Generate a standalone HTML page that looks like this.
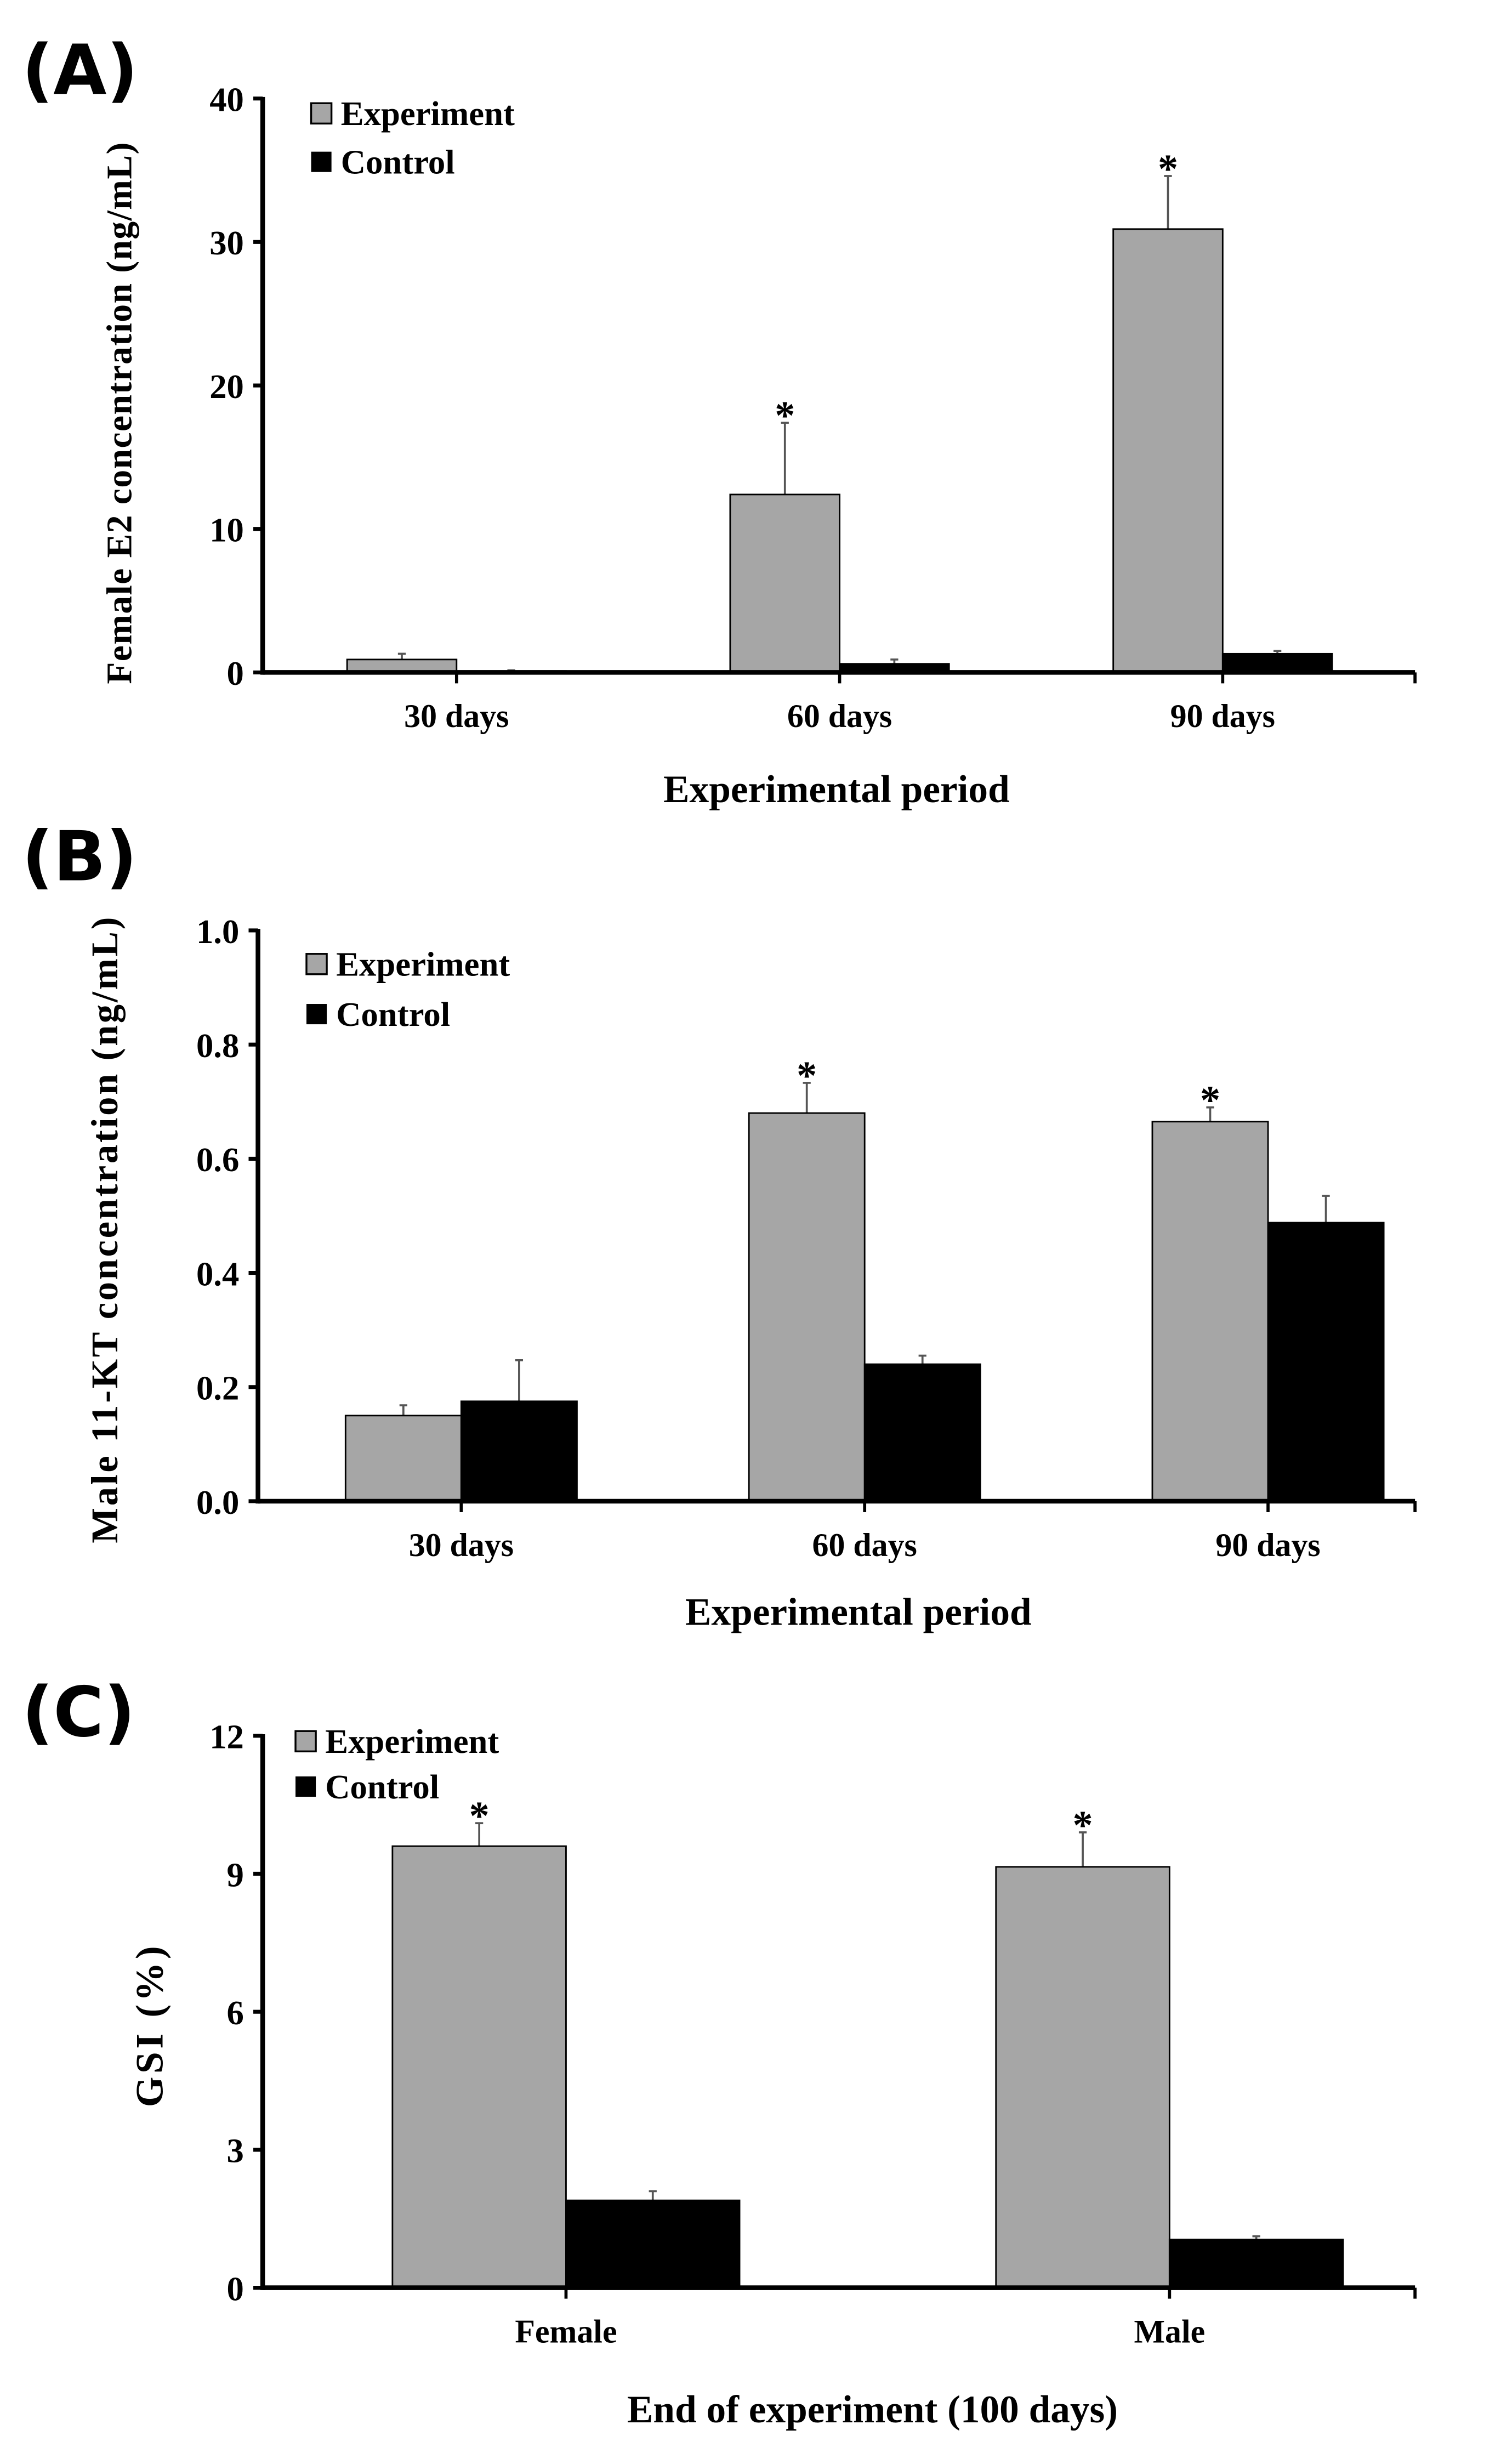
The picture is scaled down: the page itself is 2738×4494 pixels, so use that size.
<!DOCTYPE html>
<html><head><meta charset="utf-8">
<style>
html,body{margin:0;padding:0;background:#fff;}
svg{display:block;}
.t{font-family:"Liberation Serif",serif;font-weight:bold;fill:#000;}
.p{font-family:"DejaVu Sans","Liberation Sans",sans-serif;font-weight:bold;fill:#000;}
</style></head>
<body>
<svg id="fig" width="2738" height="4494" viewBox="0 0 960 1575.7" preserveAspectRatio="none" xmlns="http://www.w3.org/2000/svg"></svg>
<script>
// Panel A data
const catsA = ["30 days","60 days","90 days"];
const expA = [0.9, 12.4, 30.9];
const expErrA = [0.4, 5.0, 3.7];
const ctrlA = [0.1, 0.6, 1.3];
const ctrlErrA = [0.05, 0.3, 0.2];
const sigA = [false, true, true];
const ticksA = [0,10,20,30,40];
const tickLabelsA = ["0","10","20","30","40"];
// Panel B data
const catsB = ["30 days","60 days","90 days"];
const expB = [0.15, 0.68, 0.665];
const expErrB = [0.018, 0.053, 0.025];
const ctrlB = [0.175, 0.24, 0.488];
const ctrlErrB = [0.072, 0.015, 0.047];
const sigB = [false, true, true];
const ticksB = [0,0.2,0.4,0.6,0.8,1.0];
const tickLabelsB = ["0.0","0.2","0.4","0.6","0.8","1.0"];
// Panel C data
const catsC = ["Female","Male"];
const expC = [9.6, 9.15];
const expErrC = [0.5, 0.75];
const ctrlC = [1.9, 1.05];
const ctrlErrC = [0.2, 0.07];
const sigC = [true, true];
const ticksC = [0,3,6,9,12];
const tickLabelsC = ["0","3","6","9","12"];

const NS = "http://www.w3.org/2000/svg";
const svg = document.getElementById('fig');
function mk(tag, attrs, parent, text){
  const e = document.createElementNS(NS, tag);
  for (const k in attrs) e.setAttribute(k, attrs[k]);
  if (text !== undefined) e.textContent = text;
  (parent || svg).appendChild(e);
  return e;
}

function panel(cfg){
  const g = mk('g', {});
  
  
  const yScale = v => cfg.y0 - (v - 0) / cfg.ymax * (cfg.y0 - cfg.y1);
  const n = cfg.cats.length;
  const centers = cfg.cats.map((c,i)=> cfg.firstC + i*cfg.step);
  const pl = mk('text', {x:14, y:cfg.letterY, class:'p', 'font-size':44}, g, cfg.letter);
  
  
  for (let i=0;i<n;i++){
    const cx = centers[i], w = cfg.bw;
    const ye = yScale(cfg.exp[i]), yc = yScale(cfg.ctrl[i]);
    const ee = yScale(cfg.exp[i]+cfg.expErr[i]), ce = yScale(cfg.ctrl[i]+cfg.ctrlErr[i]);
    const eb = mk('line', {x1:cx-w/2, x2:cx-w/2, y1:ye, y2:ee, stroke:'#555', 'stroke-width':1.3}, g);
    
    
    mk('line', {x1:cx-w/2-2.5, x2:cx-w/2+2.5, y1:ee, y2:ee, stroke:'#555', 'stroke-width':1.3}, g);
    const cb = mk('line', {x1:cx+w/2, x2:cx+w/2, y1:yc, y2:ce, stroke:'#555', 'stroke-width':1.3}, g);
    
    
    mk('line', {x1:cx+w/2-2.5, x2:cx+w/2+2.5, y1:ce, y2:ce, stroke:'#555', 'stroke-width':1.3}, g);
    const r1 = mk('rect', {x:cx-w, y:ye, width:w, height:cfg.y0-ye, fill:'#a6a6a6', stroke:'#000', 'stroke-width':1}, g);
    
    
    const r2 = mk('rect', {x:cx, y:yc, width:w, height:cfg.y0-yc, fill:'#000', stroke:'#000', 'stroke-width':1}, g);
    
    
    if (cfg.sig[i]){
      const st = mk('text', {x:cx-w/2, y:ee+4, class:'t', 'font-size':26, 'text-anchor':'middle'}, g, '*');
      
      
    }
    const xl = mk('text', {x:cx, y:cfg.y0+35, class:'t', 'font-size':21, 'text-anchor':'middle'}, g, cfg.cats[i]);
    
    
    mk('line', {x1:cx, x2:cx, y1:cfg.y0, y2:cfg.y0+7, stroke:'#000', 'stroke-width':2}, g);
  }
  mk('line', {x1:cfg.xEnd, x2:cfg.xEnd, y1:cfg.y0, y2:cfg.y0+7, stroke:'#000', 'stroke-width':2}, g);
  const ya = mk('line', {x1:cfg.x0, x2:cfg.x0, y1:cfg.y1-1, y2:cfg.y0+1.5, stroke:'#000', 'stroke-width':3}, g);
  
  
  const xa = mk('line', {x1:cfg.x0, x2:cfg.xEnd, y1:cfg.y0, y2:cfg.y0, stroke:'#000', 'stroke-width':3}, g);
  
  
  cfg.ticks.forEach((t,j)=>{
    const y = yScale(t);
    mk('line', {x1:cfg.x0-6, x2:cfg.x0, y1:y, y2:y, stroke:'#000', 'stroke-width':2.5}, g);
    const tl = mk('text', {x:cfg.x0-12, y:y+8, class:'t', 'font-size':22, 'text-anchor':'end'}, g, cfg.tickLabels[j]);
    
    
  });
  const lg = mk('g', {}, g);
  
  
  const le = mk('rect', {x:cfg.legX, y:cfg.legY, width:13, height:13, fill:'#a6a6a6', stroke:'#000', 'stroke-width':1.2}, lg);
  
  
  const lt1 = mk('text', {x:cfg.legX+19, y:cfg.legY+14, class:'t', 'font-size':22}, lg, 'Experiment');
  
  
  const lc = mk('rect', {x:cfg.legX, y:cfg.legY+cfg.legGap, width:13, height:13, fill:'#000'}, lg);
  
  
  const lt2 = mk('text', {x:cfg.legX+19, y:cfg.legY+cfg.legGap+14, class:'t', 'font-size':22}, lg, 'Control');
  
  
  const xt = mk('text', {x:cfg.xtX, y:cfg.xtY, class:'t', 'font-size':25, 'text-anchor':'middle'}, g, cfg.xTitle);
  
  
  const yt = mk('text', {x:0, y:0, class:'t', 'font-size':cfg.ytSize, 'letter-spacing':cfg.ytLs, 'text-anchor':'middle', transform:`translate(${cfg.ytX},${cfg.ytY}) rotate(-90)`}, g, cfg.yTitle);
  
  
}

panel({name:'panel-a-female-e2', letter:'(A)', letterY:60, cats:catsA, exp:expA, expErr:expErrA, ctrl:ctrlA, ctrlErr:ctrlErrA, sig:sigA,
  ticks:ticksA, tickLabels:tickLabelsA, ymax:40, x0:168, xEnd:905, y0:430, y1:63, firstC:292, step:245, bw:70,
  legX:199, legY:66, legGap:31, xTitle:'Experimental period', xtX:535, xtY:513,
  yTitle:'Female E2 concentration (ng/mL)', ytX:84, ytY:264, ytSize:23, ytLs:0.5});
panel({name:'panel-b-male-11kt', letter:'(B)', letterY:563, cats:catsB, exp:expB, expErr:expErrB, ctrl:ctrlB, ctrlErr:ctrlErrB, sig:sigB,
  ticks:ticksB, tickLabels:tickLabelsB, ymax:1.0, x0:165, xEnd:905, y0:960, y1:595, firstC:295, step:258, bw:74,
  legX:196, legY:610, legGap:32, xTitle:'Experimental period', xtX:549, xtY:1039,
  yTitle:'Male 11-KT concentration (ng/mL)', ytX:75, ytY:786, ytSize:24, ytLs:1.3});
panel({name:'panel-c-gsi', letter:'(C)', letterY:1110, cats:catsC, exp:expC, expErr:expErrC, ctrl:ctrlC, ctrlErr:ctrlErrC, sig:sigC,
  ticks:ticksC, tickLabels:tickLabelsC, ymax:12, x0:168, xEnd:905, y0:1463, y1:1110, firstC:362, step:386, bw:111,
  legX:189, legY:1107, legGap:29, xTitle:'End of experiment (100 days)', xtX:558, xtY:1549,
  yTitle:'GSI (%)', ytX:104, ytY:1295, ytSize:25, ytLs:2});
</script>
</body></html>
